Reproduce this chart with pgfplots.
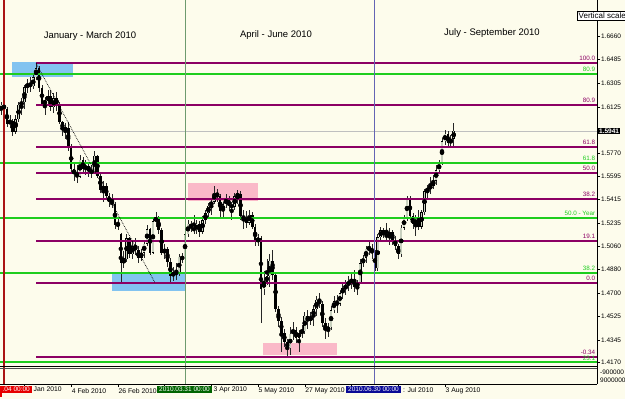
\documentclass[border=0pt]{standalone}
\usepackage{pgfplots}
\pgfplotsset{compat=1.18}
\usepackage{pgfplotstable}
\usepackage{fontspec}
\setmainfont{Liberation Sans}
\definecolor{bg}{RGB}{253,252,236}
\definecolor{fibm}{RGB}{140,0,100}
\definecolor{fibg}{RGB}{30,205,30}
\definecolor{rectblue}{RGB}{130,195,240}
\definecolor{rectpink}{RGB}{250,185,200}
\definecolor{vred}{RGB}{170,20,20}
\definecolor{vgreen}{RGB}{110,155,110}
\definecolor{vblue}{RGB}{100,100,180}
\definecolor{bull}{RGB}{200,208,190}
\definecolor{lblred}{RGB}{230,0,0}
\definecolor{lblgreen}{RGB}{0,100,0}
\definecolor{lblblue}{RGB}{10,10,150}

\pgfplotstableread{
i o h l c
-1 1.6090 1.6160 1.6060 1.6140
0 1.6140 1.6175 1.6070 1.6110
1 1.6110 1.6120 1.5970 1.5995
2 1.5995 1.6060 1.5960 1.6020
3 1.6020 1.6035 1.5900 1.5935
4 1.5935 1.6065 1.5920 1.6030
5 1.6030 1.6160 1.6010 1.6140
6 1.6140 1.6190 1.6060 1.6160
7 1.6160 1.6290 1.6110 1.6275
8 1.6275 1.6340 1.6230 1.6300
9 1.6300 1.6350 1.6240 1.6280
10 1.6280 1.6370 1.6260 1.6350
11 1.6350 1.6457 1.6330 1.6420
12 1.6420 1.6440 1.6240 1.6270
13 1.6270 1.6290 1.6130 1.6150
14 1.6150 1.6200 1.6060 1.6170
15 1.6170 1.6250 1.6130 1.6210
16 1.6210 1.6250 1.6090 1.6120
17 1.6120 1.6230 1.6080 1.6190
18 1.6190 1.6240 1.6090 1.6140
19 1.6140 1.6160 1.5990 1.6010
20 1.6010 1.6020 1.5900 1.5950
21 1.5950 1.6000 1.5880 1.5960
22 1.5960 1.6010 1.5790 1.5810
23 1.5810 1.5840 1.5620 1.5650
24 1.5650 1.5690 1.5560 1.5610
25 1.5610 1.5680 1.5540 1.5590
26 1.5590 1.5760 1.5580 1.5720
27 1.5720 1.5740 1.5610 1.5650
28 1.5650 1.5720 1.5600 1.5670
29 1.5670 1.5700 1.5590 1.5640
30 1.5640 1.5680 1.5580 1.5620
31 1.5620 1.5790 1.5610 1.5750
32 1.5750 1.5760 1.5580 1.5600
33 1.5600 1.5620 1.5470 1.5490
34 1.5490 1.5560 1.5400 1.5520
35 1.5520 1.5540 1.5410 1.5440
36 1.5440 1.5470 1.5360 1.5400
37 1.5400 1.5460 1.5350 1.5380
38 1.5380 1.5400 1.5190 1.5220
39 1.5220 1.5280 1.5180 1.5230
40 1.5150 1.5160 1.4781 1.4930
41 1.4930 1.5020 1.4890 1.4960
42 1.4960 1.5150 1.4940 1.5120
43 1.5120 1.5130 1.4970 1.5000
44 1.5000 1.5110 1.4960 1.5060
45 1.5060 1.5120 1.4990 1.5030
46 1.5030 1.5060 1.4930 1.4970
47 1.4970 1.5040 1.4950 1.5010
48 1.5010 1.5110 1.4970 1.5080
49 1.5080 1.5220 1.5060 1.5190
50 1.5190 1.5200 1.4990 1.5010
51 1.5010 1.5270 1.5000 1.5250
52 1.5250 1.5320 1.5210 1.5280
53 1.5280 1.5290 1.5150 1.5180
54 1.5180 1.5200 1.4990 1.5010
55 1.5010 1.5080 1.4960 1.5040
56 1.5040 1.5050 1.4900 1.4940
57 1.4940 1.4970 1.4790 1.4830
58 1.4830 1.4900 1.4795 1.4860
59 1.4860 1.4930 1.4800 1.4850
60 1.4850 1.5000 1.4830 1.4980
61 1.4980 1.5010 1.4930 1.4960
62 1.4960 1.5170 1.4950 1.5150
63 1.5150 1.5260 1.5130 1.5230
64 1.5230 1.5250 1.5170 1.5200
65 1.5200 1.5300 1.5150 1.5180
66 1.5180 1.5260 1.5150 1.5230
67 1.5230 1.5250 1.5130 1.5170
68 1.5170 1.5290 1.5150 1.5260
69 1.5260 1.5340 1.5230 1.5310
70 1.5310 1.5390 1.5280 1.5370
71 1.5370 1.5430 1.5300 1.5400
72 1.5400 1.5520 1.5380 1.5470
73 1.5470 1.5500 1.5400 1.5440
74 1.5440 1.5460 1.5280 1.5330
75 1.5330 1.5400 1.5280 1.5380
76 1.5380 1.5460 1.5350 1.5420
77 1.5420 1.5440 1.5330 1.5370
78 1.5370 1.5400 1.5260 1.5360
79 1.5360 1.5470 1.5340 1.5440
80 1.5440 1.5490 1.5380 1.5460
81 1.5460 1.5480 1.5260 1.5290
82 1.5290 1.5340 1.5190 1.5270
83 1.5270 1.5330 1.5200 1.5240
84 1.5240 1.5340 1.5220 1.5300
85 1.5300 1.5320 1.5190 1.5210
86 1.5210 1.5230 1.5060 1.5100
87 1.5100 1.5150 1.5060 1.5120
88 1.5120 1.5140 1.4475 1.4730
89 1.4730 1.4870 1.4690 1.4790
90 1.4790 1.4960 1.4760 1.4830
91 1.4830 1.5000 1.4750 1.4950
92 1.4950 1.5030 1.4800 1.4840
93 1.4840 1.4860 1.4560 1.4580
94 1.4580 1.4600 1.4440 1.4490
95 1.4490 1.4520 1.4250 1.4400
96 1.4400 1.4430 1.4290 1.4330
97 1.4330 1.4350 1.4215 1.4280
98 1.4280 1.4440 1.4230 1.4390
99 1.4390 1.4480 1.4340 1.4420
100 1.4420 1.4440 1.4320 1.4360
101 1.4360 1.4420 1.4250 1.4400
102 1.4400 1.4460 1.4360 1.4410
103 1.4410 1.4560 1.4390 1.4530
104 1.4530 1.4570 1.4430 1.4490
105 1.4490 1.4560 1.4460 1.4520
106 1.4520 1.4610 1.4450 1.4580
107 1.4580 1.4680 1.4530 1.4650
108 1.4650 1.4700 1.4590 1.4620
109 1.4620 1.4640 1.4440 1.4470
110 1.4470 1.4510 1.4350 1.4420
111 1.4420 1.4470 1.4370 1.4440
112 1.4440 1.4600 1.4420 1.4570
113 1.4570 1.4680 1.4550 1.4640
114 1.4640 1.4690 1.4550 1.4620
115 1.4620 1.4720 1.4600 1.4700
116 1.4700 1.4770 1.4660 1.4740
117 1.4740 1.4800 1.4690 1.4760
118 1.4760 1.4830 1.4720 1.4790
119 1.4790 1.4860 1.4730 1.4800
120 1.4800 1.4880 1.4710 1.4750
121 1.4750 1.4800 1.4690 1.4780
122 1.4780 1.4960 1.4770 1.4930
123 1.4930 1.4990 1.4900 1.4970
124 1.4970 1.5060 1.4930 1.5040
125 1.5040 1.5090 1.4990 1.5050
126 1.5050 1.5080 1.4960 1.5010
127 1.5010 1.5030 1.4870 1.4890
128 1.4890 1.5150 1.4870 1.5130
129 1.5130 1.5210 1.5100 1.5180
130 1.5180 1.5200 1.5120 1.5150
131 1.5150 1.5240 1.5100 1.5130
132 1.5130 1.5200 1.5070 1.5170
133 1.5170 1.5180 1.5070 1.5110
134 1.5110 1.5140 1.5030 1.5060
135 1.5060 1.5080 1.4960 1.5000
136 1.5000 1.5220 1.4980 1.5200
137 1.5200 1.5300 1.5180 1.5280
138 1.5280 1.5440 1.5250 1.5420
139 1.5420 1.5440 1.5260 1.5290
140 1.5290 1.5310 1.5190 1.5230
141 1.5230 1.5300 1.5140 1.5260
142 1.5260 1.5340 1.5180 1.5210
143 1.5210 1.5340 1.5190 1.5320
144 1.5320 1.5500 1.5300 1.5480
145 1.5480 1.5530 1.5430 1.5500
146 1.5500 1.5590 1.5460 1.5520
147 1.5520 1.5600 1.5500 1.5560
148 1.5560 1.5680 1.5530 1.5640
149 1.5640 1.5720 1.5620 1.5690
150 1.5690 1.5890 1.5680 1.5860
151 1.5860 1.5950 1.5830 1.5920
152 1.5920 1.5940 1.5810 1.5850
153 1.5850 1.5910 1.5810 1.5880
154 1.5880 1.6000 1.5820 1.5941
}\ohlc

\begin{document}
\begin{tikzpicture}
\fill[bg] (0,0) rectangle (625pt,-399pt);
\useasboundingbox (0,0) rectangle (625pt,-399pt);
\begin{axis}[
  at={(0,0)}, anchor=north west, scale only axis,
  width=597pt, height=384pt,
  xmin=-1.37, xmax=203.08, ymin=1.40071, ymax=1.69407,
  separate axis lines, axis x line*=bottom, axis y line*=right,
  axis line style={-, black, line width=0.8pt},
  clip=false,
  tick align=outside, major tick length=3pt,
  tick style={black, line width=0.5pt},
  ytick={1.4170,1.4345,1.4525,1.4700,1.4880,1.5060,1.5235,1.5415,1.5595,1.5770,1.6125,1.6305,1.6485,1.6660},
  yticklabels={1.4170,1.4345,1.4525,1.4700,1.4880,1.5060,1.5235,1.5415,1.5595,1.5770,1.6125,1.6305,1.6485,1.6660},
  yticklabel style={anchor=west, font=\fontsize{6.5}{7}\selectfont, inner sep=1pt},
  xtick={7,23,39,55,71,87,103,119,135,151},
  xticklabels={,4 Feb 2010,26 Feb 2010,,,5 May 2010,27 May 2010,,,3 Aug 2010},
  xticklabel style={anchor=north west, font=\fontsize{6.8}{7}\selectfont, inner sep=1pt, xshift=-0.5pt},
]
% rectangles
\addplot[fill=rectblue, draw=none, forget plot] coordinates {(2.74,1.6352) (23.6,1.6352) (23.6,1.6467) (2.74,1.6467)} --cycle;
\addplot[fill=rectblue, draw=none, forget plot] coordinates {(37.0,1.4718) (62.0,1.4718) (62.0,1.4855) (37.0,1.4855)} --cycle;
\addplot[fill=rectpink, draw=none, forget plot] coordinates {(63.0,1.5405) (87.0,1.5405) (87.0,1.5543) (63.0,1.5543)} --cycle;
\addplot[fill=rectpink, draw=none, forget plot] coordinates {(88.7,1.4229) (114.0,1.4229) (114.0,1.4320) (88.7,1.4320)} --cycle;
% current price line
\addplot[black!25, line width=0.6pt, forget plot] coordinates {(-1.37,1.5941) (203.08,1.5941)};
% wicks
\addplot[only marks, mark=none, forget plot,
  error bars/.cd, y dir=both, y explicit, error mark=none,
  error bar style={black!85, line width=0.6pt}]
  table[x=i, y expr={(\thisrow{h}+\thisrow{l})/2}, y error expr={(\thisrow{h}-\thisrow{l})/2}] {\ohlc};
% bodies
\addplot[only marks, mark=none, forget plot,
  error bars/.cd, y dir=both, y explicit, error mark=none,
  error bar style={black, line width=2.6pt}]
  table[x=i, y expr={(\thisrow{o}+\thisrow{c})/2}, y error expr={abs(\thisrow{c}-\thisrow{o})/2}] {\ohlc};
\addplot[only marks, mark=none, forget plot,
  restrict expr to domain={\thisrow{c}-\thisrow{o}}{0.00005:1},
  error bars/.cd, y dir=both, y explicit, error mark=none,
  error bar style={bull, line width=1.6pt}]
  table[x=i, y expr={(\thisrow{o}+\thisrow{c})/2}, y error expr={max(abs(\thisrow{c}-\thisrow{o})/2-0.0004,0)}] {\ohlc};
% fib lines (magenta)
\pgfplotsinvokeforeach{1.6457,1.6137,1.5817,1.5619,1.5421,1.5101,1.4781,1.4211}{
  \addplot[fibm, line width=2pt, forget plot] coordinates {(11,#1) (203.08,#1)};
}
% green levels
\pgfplotsinvokeforeach{1.6373,1.5693,1.5275,1.4855,1.4173}{
  \addplot[fibg, line width=2pt, forget plot] coordinates {(-1.37,#1) (203.08,#1)};
}
% trend line
\addplot[black, densely dotted, line width=0.7pt, forget plot] coordinates {(11,1.6457) (51.7,1.4781)};
% vertical lines
\addplot[vred, line width=1.8pt, forget plot] coordinates {(0,1.40071) (0,1.69407)};
\addplot[vgreen, line width=0.9pt, forget plot] coordinates {(62,1.40071) (62,1.69407)};
\addplot[vblue, line width=0.9pt, forget plot] coordinates {(127,1.40071) (127,1.69407)};
\end{axis}
\begin{scope}[x=1pt,y=-1pt]
% window separators
\draw[black, line width=0.6pt] (0,366) -- (597,366);
\draw[black!70, line width=0.5pt] (0,368.5) -- (597,368.5);
% titles
\node[font=\fontsize{9.5}{11}\selectfont] at (90,36) {January - March 2010};
\node[font=\fontsize{9.5}{11}\selectfont] at (276,35) {April - June 2010};
\node[font=\fontsize{9.5}{11}\selectfont] at (492,33) {July - September 2010};
% fib labels
\begin{scope}[font=\fontsize{6.3}{6.5}\selectfont, inner sep=0.6pt]
\node[fibm, anchor=south east] at (596,61.5) {100.0};
\node[fibm, anchor=south east] at (596,103.5) {80.9};
\node[fibm, anchor=south east] at (596,145.5) {61.8};
\node[fibm, anchor=south east] at (596,171.5) {50.0};
\node[fibm, anchor=south east] at (596,197.5) {38.2};
\node[fibm, anchor=south east] at (596,239.5) {19.1};
\node[fibm, anchor=south east] at (596,281.5) {0.0};
\node[fibm, anchor=south east] at (596,355.5) {-0.34};
\node[fibg, anchor=south east] at (596,72.5) {80.9};
\node[fibg, anchor=south east] at (596,161.5) {61.8};
\node[fibg, anchor=south east] at (596,216.5) {50.0 - Year};
\node[fibg, anchor=south east] at (596,271.5) {38.2};
\node[fibg, anchor=south east] at (596,361) {23.1};
\end{scope}
% current price label
\node[fill=black, text=white, font=\bfseries\fontsize{6.5}{7}\selectfont, inner sep=1pt, anchor=west] at (598,131) {1.5941};
% vertical scale tooltip
\node[draw=black, fill=white, font=\fontsize{8}{9}\selectfont, inner sep=1.5pt, anchor=west] at (577,16) {Vertical scale};
% sub-window labels
\node[font=\fontsize{6.5}{7}\selectfont, inner sep=0pt, anchor=west] at (600,372) {-900000};
\node[font=\fontsize{6.5}{7}\selectfont, inner sep=0pt, anchor=west] at (600,380) {9000000};
% date labels beside the marker boxes
\begin{scope}[font=\fontsize{6.8}{7}\selectfont, inner sep=1pt]
\node[anchor=north west] at (32.5,386) {Jan 2010};
\node[anchor=north west] at (212.5,386) {3 Apr 2010};
\node[anchor=north west] at (402,386) {: Jul 2010};
\end{scope}
% date boxes
\node[fill=lblred, text=white, font=\fontsize{6.5}{7}\selectfont, inner xsep=2pt, inner ysep=1.5pt, anchor=north east] at (32,385.5) {.04 00:00};
\node[fill=lblgreen, text=white, font=\fontsize{6.5}{7}\selectfont, inner xsep=2pt, inner ysep=1.5pt, anchor=north] at (184.5,385.5) {2010.03.31 00:00};
\node[fill=lblblue, text=white, font=\fontsize{6.5}{7}\selectfont, inner xsep=2pt, inner ysep=1.5pt, anchor=north] at (373.5,385.5) {2010.06.30 00:00};
\fill[lblred] (0,385.5) rectangle (2,397);
\end{scope}
\end{tikzpicture}
\end{document}
